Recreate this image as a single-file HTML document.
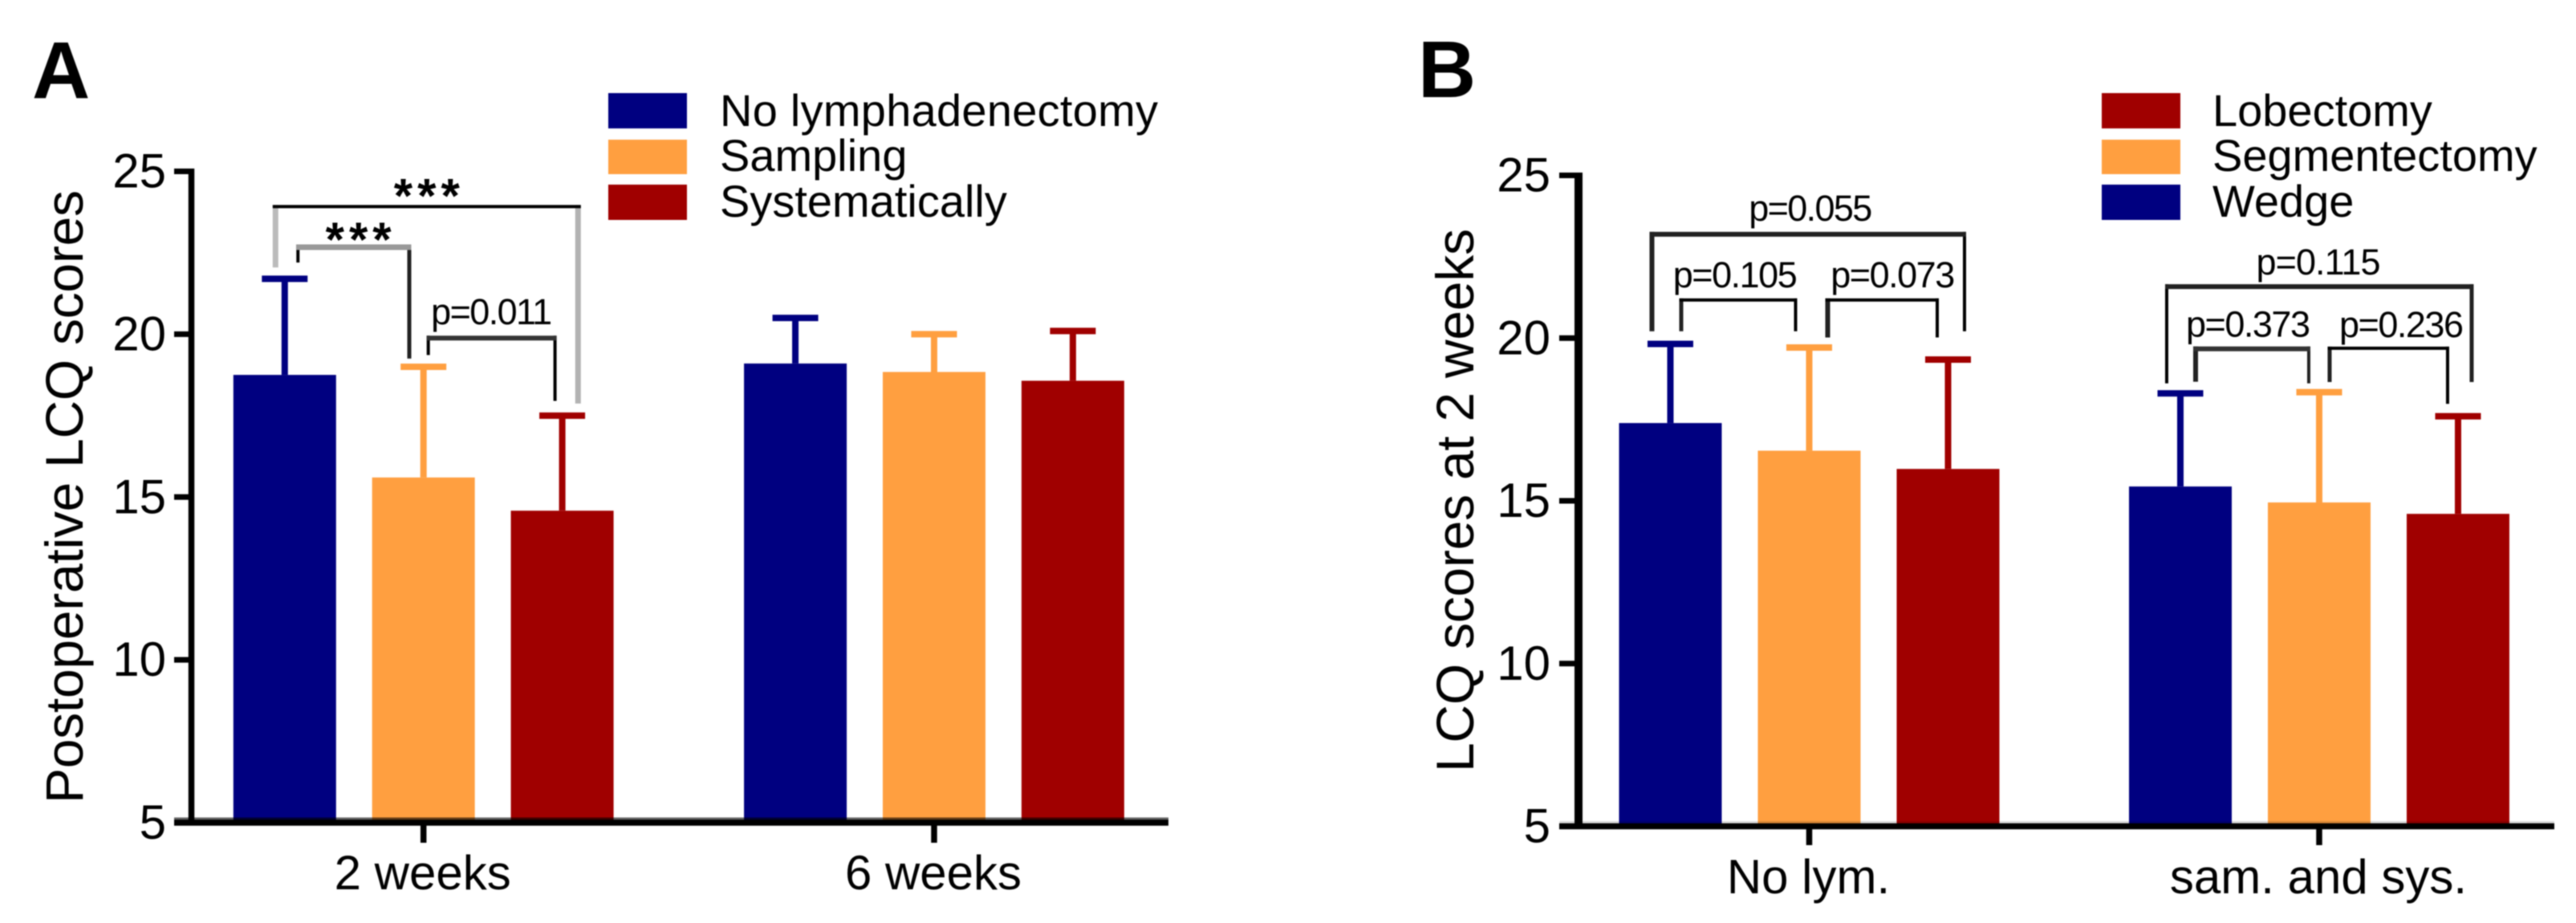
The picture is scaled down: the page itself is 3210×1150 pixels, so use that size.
<!DOCTYPE html>
<html lang="en">
<head>
<meta charset="utf-8">
<title>LCQ scores bar charts</title>
<style>
html,body{margin:0;padding:0;background:#fff;width:3210px;height:1150px;overflow:hidden}
svg{display:block;filter:blur(0.8px)}
text{font-family:"Liberation Sans",sans-serif;fill:#000}
.panel{font-weight:bold;font-size:100px}
.title{font-size:66px}
.leg{font-size:56px}
</style>
</head>
<body>
<svg id="fig" xmlns="http://www.w3.org/2000/svg" width="3210" height="1150" viewBox="0 0 3210 1150">
  <rect x="0" y="0" width="3210" height="1150" fill="#fff"/>
  <g id="chartA"></g>
  <g id="chartB"></g>

  <text class="panel" x="40" y="122">A</text>
  <text class="panel" x="1767" y="121">B</text>

  <text class="title" transform="translate(103,1001) rotate(-90)" textLength="764">Postoperative LCQ scores</text>
  <text class="title" transform="translate(1836,962) rotate(-90)" textLength="677">LCQ scores at 2 weeks</text>

  <g>
    <rect x="758" y="116" width="98" height="44" fill="#000080"/>
    <rect x="758" y="174" width="98" height="43" fill="#ff9f40"/>
    <rect x="758" y="230" width="98" height="44" fill="#a00000"/>
    <text class="leg" x="897" y="157" textLength="546">No lymphadenectomy</text>
    <text class="leg" x="897" y="213">Sampling</text>
    <text class="leg" x="897" y="270">Systematically</text>
  </g>
  <g>
    <rect x="2619" y="116" width="98" height="44" fill="#a00000"/>
    <rect x="2619" y="174" width="98" height="43" fill="#ff9f40"/>
    <rect x="2619" y="230" width="98" height="44" fill="#000080"/>
    <text class="leg" x="2757" y="157">Lobectomy</text>
    <text class="leg" x="2757" y="213">Segmentectomy</text>
    <text class="leg" x="2757" y="270">Wedge</text>
  </g>
</svg>
<script>
// ---- Data ----
const yTicks = [5, 10, 15, 20, 25];

const groupsA = ['2 weeks', '6 weeks'];
const noLymphMeans = [18.75, 19.10];
const noLymphErrors = [2.95, 1.40];
const samplingMeans = [15.60, 18.84];
const samplingErrors = [3.40, 1.16];
const systematicMeans = [14.58, 18.57];
const systematicErrors = [2.92, 1.53];

const groupsB = ['No lym.', 'sam. and sys.'];
const wedgeMeans = [17.39, 15.44];
const wedgeErrors = [2.43, 2.86];
const segmentMeans = [16.54, 14.95];
const segmentErrors = [3.17, 3.39];
const lobectomyMeans = [15.98, 14.60];
const lobectomyErrors = [3.36, 3.00];

const seriesColors = ['#000080', '#ff9f40', '#a00000'];
const seriesNamesA = ['no-lymphadenectomy', 'sampling', 'systematically'];
const seriesNamesB = ['wedge', 'segmentectomy', 'lobectomy'];

// ---- Helpers ----
const NS = 'http://www.w3.org/2000/svg';

function line(parent, x1, y1, x2, y2, color, width, name) {
  const el = document.createElementNS(NS, 'line');
  el.setAttribute('x1', x1);
  el.setAttribute('y1', y1);
  el.setAttribute('x2', x2);
  el.setAttribute('y2', y2);
  el.setAttribute('stroke', color);
  el.setAttribute('stroke-width', width);
  
  
  parent.appendChild(el);
  return el;
}

function label(parent, x, y, str, size, anchor, name, length) {
  const el = document.createElementNS(NS, 'text');
  el.setAttribute('x', x);
  el.setAttribute('y', y);
  el.setAttribute('font-size', size);
  el.setAttribute('text-anchor', anchor);
  if (length) el.setAttribute('textLength', length);
  el.textContent = str;
  
  
  parent.appendChild(el);
  return el;
}

function drawBars(parent, cfg, means, errors, s, seriesName) {
  means.forEach(function (m, g) {
    const cx = cfg.barX(g, s);
    const top = cfg.y(m);
    const errTop = cfg.y(m + errors[g]);
    const color = seriesColors[s];
    const r = document.createElementNS(NS, 'rect');
    r.setAttribute('x', cx - 64);
    r.setAttribute('y', top);
    r.setAttribute('width', 128);
    r.setAttribute('height', cfg.y(5) - top);
    r.setAttribute('fill', color);
    
    
    parent.appendChild(r);
    line(parent, cx, top, cx, errTop, color, 8, 'error-stem-' + seriesName + '-' + (g + 1));
    line(parent, cx - 28.5, errTop, cx + 28.5, errTop, color, 8, 'error-cap-' + seriesName + '-' + (g + 1));
  });
}

function drawAxes(parent, cfg) {
  const y0 = cfg.y(5);
  const y1 = cfg.y(25);
  line(parent, cfg.axisX, y1 - 3.5, cfg.axisX, y0 + 3.5, '#000', cfg.axisW, 'y-axis-line');
  line(parent, cfg.tickLeft, y0, cfg.xEnd, y0, '#000', 7.5, 'x-axis-line');
  line(parent, cfg.tickLeft, y0 - 5, cfg.xEnd, y0 - 5, cfg.shadow, 3, 'x-axis-edge');
  yTicks.forEach(function (t) {
    const y = cfg.y(t);
    line(parent, cfg.tickLeft, y, cfg.axisX, y, '#000', 7, 'y-tick-' + t);
    label(parent, cfg.labelRight, y + cfg.tickBase, String(t), 60, 'end', 'y-tick-label-' + t);
  });
  cfg.groups.forEach(function (name, g) {
    const cx = cfg.groupX(g);
    line(parent, cx, y0, cx, cfg.xTickEnd, '#000', 7.5, 'x-tick-' + (g + 1));
    label(parent, cx - 1, cfg.xLabelY, name, 60, 'middle', 'x-tick-label-' + (g + 1));
  });
}

// from/to are bar indexes; level/leftEnd/rightEnd are values on the y axis
function bracket(parent, cfg, o) {
  const x1 = cfg.barAt(o.from) + o.dxFrom;
  const x2 = cfg.barAt(o.to) + o.dxTo;
  const yTop = cfg.y(o.level);
  const g = document.createElementNS(NS, 'g');
  
  
  parent.appendChild(g);
  line(g, x1, yTop - o.topW / 2, x1, cfg.y(o.leftEnd), o.leftColor, o.leftW, 'bracket-left-' + o.id);
  line(g, x2, yTop - o.topW / 2, x2, cfg.y(o.rightEnd), o.rightColor, o.rightW, 'bracket-right-' + o.id);
  line(g, x1 - o.leftW / 2, yTop, x2 + o.rightW / 2, yTop, o.topColor, o.topW, 'bracket-top-' + o.id);
  const tx = (x1 + x2) / 2 + o.labelDx;
  const el = label(g, tx, yTop + o.labelDy, o.text, o.size, 'middle', 'bracket-label-' + o.id, o.length);
  if (o.spacing) el.setAttribute('letter-spacing', o.spacing);
  if (o.bold) el.setAttribute('font-weight', 'bold');
}

// ---- Panel A ----
const cfgA = {
  groups: groupsA,
  y: function (v) { return 1025 - (v - 5) * 40.575; },
  groupX: function (g) { return 527.7 + g * 636.3; },
  barX: function (g, s) { return 527.7 + g * 636.3 + (s - 1) * 172.9; },
  barAt: function (i) { return cfgA.barX(Math.floor(i / 3), i % 3); },
  axisX: 238.5, axisW: 7.5, tickLeft: 217, xEnd: 1456, shadow: 'rgba(0,0,0,.6)',
  labelRight: 207, tickBase: 20, xTickEnd: 1050, xLabelY: 1108
};
const chartA = document.getElementById('chartA');
drawBars(chartA, cfgA, noLymphMeans, noLymphErrors, 0, seriesNamesA[0]);
drawBars(chartA, cfgA, samplingMeans, samplingErrors, 1, seriesNamesA[1]);
drawBars(chartA, cfgA, systematicMeans, systematicErrors, 2, seriesNamesA[2]);
drawAxes(chartA, cfgA);

bracket(chartA, cfgA, {id: 'a-1-3', from: 0, to: 2, dxFrom: -11.5, dxTo: 19.7, level: 23.92, leftEnd: 22.05, rightEnd: 17.87,
  topColor: '#000', topW: 4, leftColor: '#bbb', leftW: 7, rightColor: '#b2b2b2', rightW: 7,
  text: '***', size: 60, spacing: 6, bold: true, labelDx: 3, labelDy: 7});
bracket(chartA, cfgA, {id: 'a-1-2', from: 0, to: 1, dxFrom: 16.5, dxTo: -17.7, level: 22.67, leftEnd: 22.2, rightEnd: 19.25,
  topColor: '#999', topW: 7, leftColor: '#000', leftW: 4, rightColor: '#222', rightW: 5,
  text: '***', size: 60, spacing: 6, bold: true, labelDx: 9, labelDy: 11});
bracket(chartA, cfgA, {id: 'a-2-3', from: 1, to: 2, dxFrom: 6, dxTo: -9, level: 19.88, leftEnd: 19.36, rightEnd: 17.95,
  topColor: '#333', topW: 6, leftColor: '#000', leftW: 4, rightColor: '#000', rightW: 4,
  text: 'p=0.011', size: 45, length: 151, labelDx: 0, labelDy: -17});

// ---- Panel B ----
const cfgB = {
  groups: groupsB,
  y: function (v) { return 1029.5 - (v - 5) * 40.55; },
  groupX: function (g) { return 2254.5 + g * 635.5; },
  barX: function (g, s) { return 2254.5 + g * 635.5 + (s - 1) * 173; },
  barAt: function (i) { return cfgB.barX(Math.floor(i / 3), i % 3); },
  axisX: 1967, axisW: 10, tickLeft: 1943, xEnd: 3183, shadow: 'rgba(0,0,0,.13)',
  labelRight: 1932, tickBase: 20, xTickEnd: 1053, xLabelY: 1113
};
const chartB = document.getElementById('chartB');
drawBars(chartB, cfgB, wedgeMeans, wedgeErrors, 0, seriesNamesB[0]);
drawBars(chartB, cfgB, segmentMeans, segmentErrors, 1, seriesNamesB[1]);
drawBars(chartB, cfgB, lobectomyMeans, lobectomyErrors, 2, seriesNamesB[2]);
drawAxes(chartB, cfgB);

bracket(chartB, cfgB, {id: 'b-1-3', from: 0, to: 2, dxFrom: -23, dxTo: 20.5, level: 23.19, leftEnd: 20.21, rightEnd: 20.21,
  topColor: '#222', topW: 6, leftColor: '#222', leftW: 6, rightColor: '#000', rightW: 4,
  text: 'p=0.055', size: 45, length: 154, labelDx: 3, labelDy: -17});
bracket(chartB, cfgB, {id: 'b-1-2', from: 0, to: 1, dxFrom: 13.5, dxTo: -17, level: 21.17, leftEnd: 20.21, rightEnd: 20.21,
  topColor: '#000', topW: 4, leftColor: '#222', leftW: 5, rightColor: '#000', rightW: 4,
  text: 'p=0.105', size: 45, length: 155, labelDx: -4, labelDy: -16});
bracket(chartB, cfgB, {id: 'b-2-3', from: 1, to: 2, dxFrom: 23, dxTo: -13.5, level: 21.17, leftEnd: 20.02, rightEnd: 20.02,
  topColor: '#000', topW: 4, leftColor: '#222', leftW: 6, rightColor: '#000', rightW: 4,
  text: 'p=0.073', size: 45, length: 155, labelDx: 13, labelDy: -16});
bracket(chartB, cfgB, {id: 'b-4-6', from: 3, to: 5, dxFrom: -17, dxTo: 17, level: 21.58, leftEnd: 18.61, rightEnd: 18.65,
  topColor: '#222', topW: 6, leftColor: '#000', leftW: 4, rightColor: '#222', rightW: 5,
  text: 'p=0.115', size: 45, length: 155, labelDx: -1, labelDy: -15});
bracket(chartB, cfgB, {id: 'b-4-5', from: 3, to: 4, dxFrom: 19, dxTo: -13, level: 19.67, leftEnd: 18.66, rightEnd: 18.61,
  topColor: '#333', topW: 6, leftColor: '#222', leftW: 6, rightColor: '#222', rightW: 4,
  text: 'p=0.373', size: 45, length: 155, labelDx: -5, labelDy: -15});
bracket(chartB, cfgB, {id: 'b-5-6', from: 4, to: 5, dxFrom: 13, dxTo: -13, level: 19.69, leftEnd: 18.65, rightEnd: 17.98,
  topColor: '#000', topW: 4, leftColor: '#222', leftW: 5, rightColor: '#000', rightW: 4,
  text: 'p=0.236', size: 45, length: 155, labelDx: 16, labelDy: -14});
</script>
</body>
</html>
